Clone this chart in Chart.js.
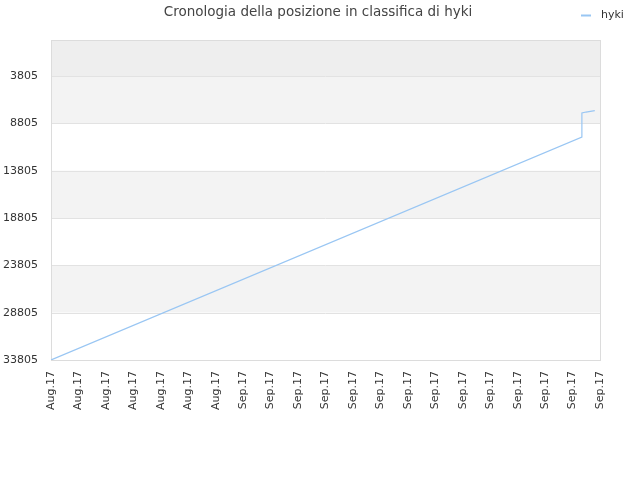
<!DOCTYPE html>
<html>
<head>
<meta charset="utf-8">
<script src="https://cdn.jsdelivr.net/npm/chart.js@4/dist/chart.umd.min.js"></script>
<style>
html,body{margin:0;padding:0;background:#fff;}
#wrap{width:640px;height:480px;position:relative;}
</style>
</head>
<body>
<div id="wrap"><canvas id="c" width="640" height="480"></canvas></div>
<script>
const titleText = "Cronologia della posizione in classifica di hyki";
const seriesName = "hyki";
// x tick labels (one every 2 days)
const xTickLabels = ["Aug.17","Aug.17","Aug.17","Aug.17","Aug.17","Aug.17","Aug.17",
  "Sep.17","Sep.17","Sep.17","Sep.17","Sep.17","Sep.17","Sep.17","Sep.17","Sep.17","Sep.17","Sep.17","Sep.17","Sep.17","Sep.17"];
// data: day offset and ranking position
const dayOffsets = [0, 38.68, 38.68, 38.98, 39.62];
const positions = [33805, 10250, 7710, 7610, 7470];
const yTickValues = [3805, 8805, 13805, 18805, 23805, 28805, 33805];

const lineColor = "#99c6f3";
const fontFam = "'DejaVu Sans', Verdana, sans-serif";

const bandPlugin = {
  id: 'bands',
  beforeDatasetsDraw(chart) {
    const {ctx, chartArea: a, scales: {y}} = chart;
    const edges = [y.min].concat(yTickValues);
    const colors = ["#eeeeee", "#f3f3f3", "#ffffff", "#f3f3f3", "#ffffff", "#f3f3f3", "#ffffff"];
    ctx.save();
    for (let i = 0; i < edges.length - 1; i++) {
      const p1 = y.getPixelForValue(edges[i]);
      const p2 = y.getPixelForValue(edges[i + 1]);
      ctx.fillStyle = colors[i];
      ctx.fillRect(a.left, Math.min(p1, p2), a.right - a.left, Math.abs(p2 - p1));
    }
    ctx.strokeStyle = "#e2e2e2";
    ctx.lineWidth = 1;
    for (const v of yTickValues) {
      const p = Math.round(y.getPixelForValue(v)) + 0.5;
      ctx.beginPath(); ctx.moveTo(a.left, p); ctx.lineTo(a.right, p); ctx.stroke();
    }
    ctx.strokeStyle = "#dcdcdc";
    ctx.strokeRect(Math.round(a.left) + 0.5, Math.round(a.top) + 0.5, Math.round(a.right - a.left), Math.round(a.bottom - a.top));
    ctx.restore();
  },
  afterDraw(chart) {
    const ctx = chart.ctx;
    const ds = chart.data.datasets[0];
    ctx.save();
    // title
    ctx.fillStyle = "#444";
    ctx.font = "13.5px " + fontFam;
    ctx.textAlign = "center";
    ctx.textBaseline = "middle";
    ctx.fillText(titleText, 318, 12);
    // legend
    ctx.strokeStyle = ds.borderColor;
    ctx.lineWidth = 2;
    ctx.beginPath(); ctx.moveTo(581, 15.5); ctx.lineTo(591, 15.5); ctx.stroke();
    ctx.fillStyle = "#333";
    ctx.font = "11px " + fontFam;
    ctx.textAlign = "left";
    ctx.fillText(ds.label, 601, 15);
    ctx.restore();
  }
};

new Chart(document.getElementById('c'), {
  type: 'line',
  data: {
    datasets: [{
      label: seriesName,
      data: dayOffsets.map((d, i) => ({x: d, y: positions[i]})),
      borderColor: lineColor,
      backgroundColor: lineColor,
      borderWidth: 1.2,
      pointRadius: 0,
      tension: 0,
      fill: false
    }]
  },
  options: {
    responsive: false,
    animation: false,
    devicePixelRatio: 1,
    layout: {padding: {left: 0, right: 40, top: 40, bottom: 0}},
    plugins: {
      legend: {display: false},
      tooltip: {enabled: false},
      title: {display: false}
    },
    scales: {
      x: {
        type: 'linear',
        min: 0,
        max: 40,
        grid: {display: false},
        border: {display: false},
        afterFit(s) { s.height = 120; },
        afterBuildTicks(s) { s.ticks = xTickLabels.map((_, i) => ({value: i * 2})); },
        ticks: {
          autoSkip: false,
          maxRotation: 90,
          minRotation: 90,
          padding: 3,
          color: "#333",
          font: {family: fontFam, size: 11},
          callback: (v) => xTickLabels[Math.round(v / 2)]
        }
      },
      y: {
        reverse: true,
        min: 0,
        max: 33805,
        grid: {display: false},
        border: {display: false},
        afterFit(s) { s.width = 51; },
        afterBuildTicks(s) { s.ticks = yTickValues.map(v => ({value: v})); },
        ticks: {
          color: "#333",
          padding: 5,
          font: {family: fontFam, size: 11},
          callback: (v) => String(v)
        }
      }
    }
  },
  plugins: [bandPlugin]
});
</script>
</body>
</html>
